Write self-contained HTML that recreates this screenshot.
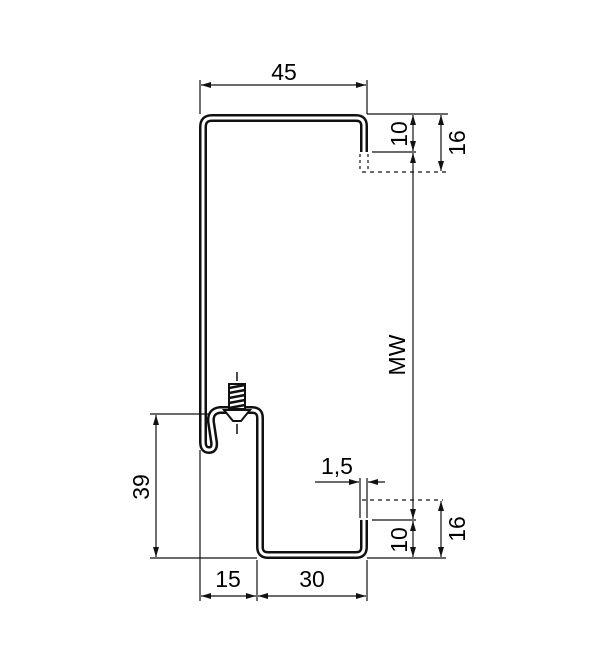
<!DOCTYPE html>
<html><head><style>
html,body{margin:0;padding:0;background:#fff;}
svg{display:block;}
text{font-family:"Liberation Sans",sans-serif;font-size:23px;fill:#000;}
</style></head><body>
<svg width="600" height="660" viewBox="0 0 600 660" xmlns="http://www.w3.org/2000/svg">
<defs>
<marker id="a" viewBox="0 0 10 6" refX="10" refY="3" markerWidth="10" markerHeight="6" orient="auto-start-reverse" markerUnits="userSpaceOnUse">
<path d="M0,0 L10,3 L0,6 z" fill="#111"/></marker>
</defs>
<g fill="none" stroke-linejoin="round">
<path d="M364,152 L364,126 Q364,118 356,118 L212,118 Q203,118 203,127 L203,442 Q203,450 209,450 Q215,450 214,442 L211,422 Q210,411 220,410 L252,410 Q260,410 260,418 L260,547 Q260,555 268,555 L356,555 Q364,555 364,547 L364,520" stroke="#111" stroke-width="8"/>
<path d="M364,152 L364,126 Q364,118 356,118 L212,118 Q203,118 203,127 L203,442 Q203,450 209,450 Q215,450 214,442 L211,422 Q210,411 220,410 L252,410 Q260,410 260,418 L260,547 Q260,555 268,555 L356,555 Q364,555 364,547 L364,520" stroke="#fff" stroke-width="3"/>
</g>
<g stroke="#111" fill="none">
<line x1="237" y1="372" x2="237" y2="381" stroke-width="1.5"/>
<line x1="237" y1="424" x2="237" y2="434" stroke-width="1.5"/>
<rect x="229" y="384" width="16" height="25" fill="#fff" stroke-width="2"/>
<path d="M229,388 L245,385 M229,393 L245,390 M229,398 L245,395 M229,403 L245,400 M229,408 L245,405" stroke-width="2.5"/>
<path d="M224,410 L250,410 L241,421 L233,421 Z" fill="#fff" stroke-width="2"/>
</g>
<g stroke="#111" stroke-width="1.2" fill="none">
<line x1="200" y1="80" x2="200" y2="114"/>
<line x1="367" y1="80" x2="367" y2="114"/>
<line x1="201" y1="85" x2="366" y2="85" marker-start="url(#a)" marker-end="url(#a)"/>
<line x1="367" y1="114" x2="448" y2="114"/>
<line x1="372" y1="152" x2="416" y2="152"/>
<line x1="413" y1="115" x2="413" y2="151" marker-start="url(#a)" marker-end="url(#a)"/>
<line x1="441" y1="115" x2="441" y2="171" marker-start="url(#a)" marker-end="url(#a)"/>
<line x1="362" y1="172" x2="450" y2="172" stroke-dasharray="4,4"/>
<line x1="360" y1="154" x2="360" y2="172" stroke-dasharray="3,3"/>
<line x1="368" y1="154" x2="368" y2="172" stroke-dasharray="3,3"/>
<line x1="413" y1="153" x2="413" y2="519" marker-start="url(#a)" marker-end="url(#a)"/>
<line x1="362" y1="500" x2="443" y2="500" stroke-dasharray="4,4"/>
<line x1="372" y1="520" x2="416" y2="520"/>
<line x1="367" y1="558" x2="446" y2="558"/>
<line x1="413" y1="521" x2="413" y2="557" marker-start="url(#a)" marker-end="url(#a)"/>
<line x1="441" y1="501" x2="441" y2="557" marker-start="url(#a)" marker-end="url(#a)"/>
<line x1="360" y1="478" x2="360" y2="518"/>
<line x1="367" y1="478" x2="367" y2="518"/>
<line x1="315" y1="482" x2="359" y2="482" marker-end="url(#a)"/>
<line x1="385" y1="482" x2="368" y2="482" marker-end="url(#a)"/>
<line x1="150" y1="414" x2="210" y2="414"/>
<line x1="150" y1="558" x2="257" y2="558"/>
<line x1="156" y1="415" x2="156" y2="557" marker-start="url(#a)" marker-end="url(#a)"/>
<line x1="200" y1="450" x2="200" y2="601"/>
<line x1="257" y1="560" x2="257" y2="601"/>
<line x1="367" y1="560" x2="367" y2="601"/>
<line x1="201" y1="596" x2="256" y2="596" marker-start="url(#a)" marker-end="url(#a)"/>
<line x1="258" y1="596" x2="366" y2="596" marker-start="url(#a)" marker-end="url(#a)"/>
</g>
<text x="284" y="80" text-anchor="middle">45</text>
<text x="228" y="587" text-anchor="middle">15</text>
<text x="312" y="587" text-anchor="middle">30</text>
<text x="337" y="474" text-anchor="middle">1,5</text>
<text transform="translate(149,487) rotate(-90)" text-anchor="middle">39</text>
<text transform="translate(405,355) rotate(-90)" text-anchor="middle">MW</text>
<text transform="translate(407,134) rotate(-90)" text-anchor="middle">10</text>
<text transform="translate(465,143) rotate(-90)" text-anchor="middle">16</text>
<text transform="translate(407,540) rotate(-90)" text-anchor="middle">10</text>
<text transform="translate(465,529) rotate(-90)" text-anchor="middle">16</text>
</svg>
</body></html>
